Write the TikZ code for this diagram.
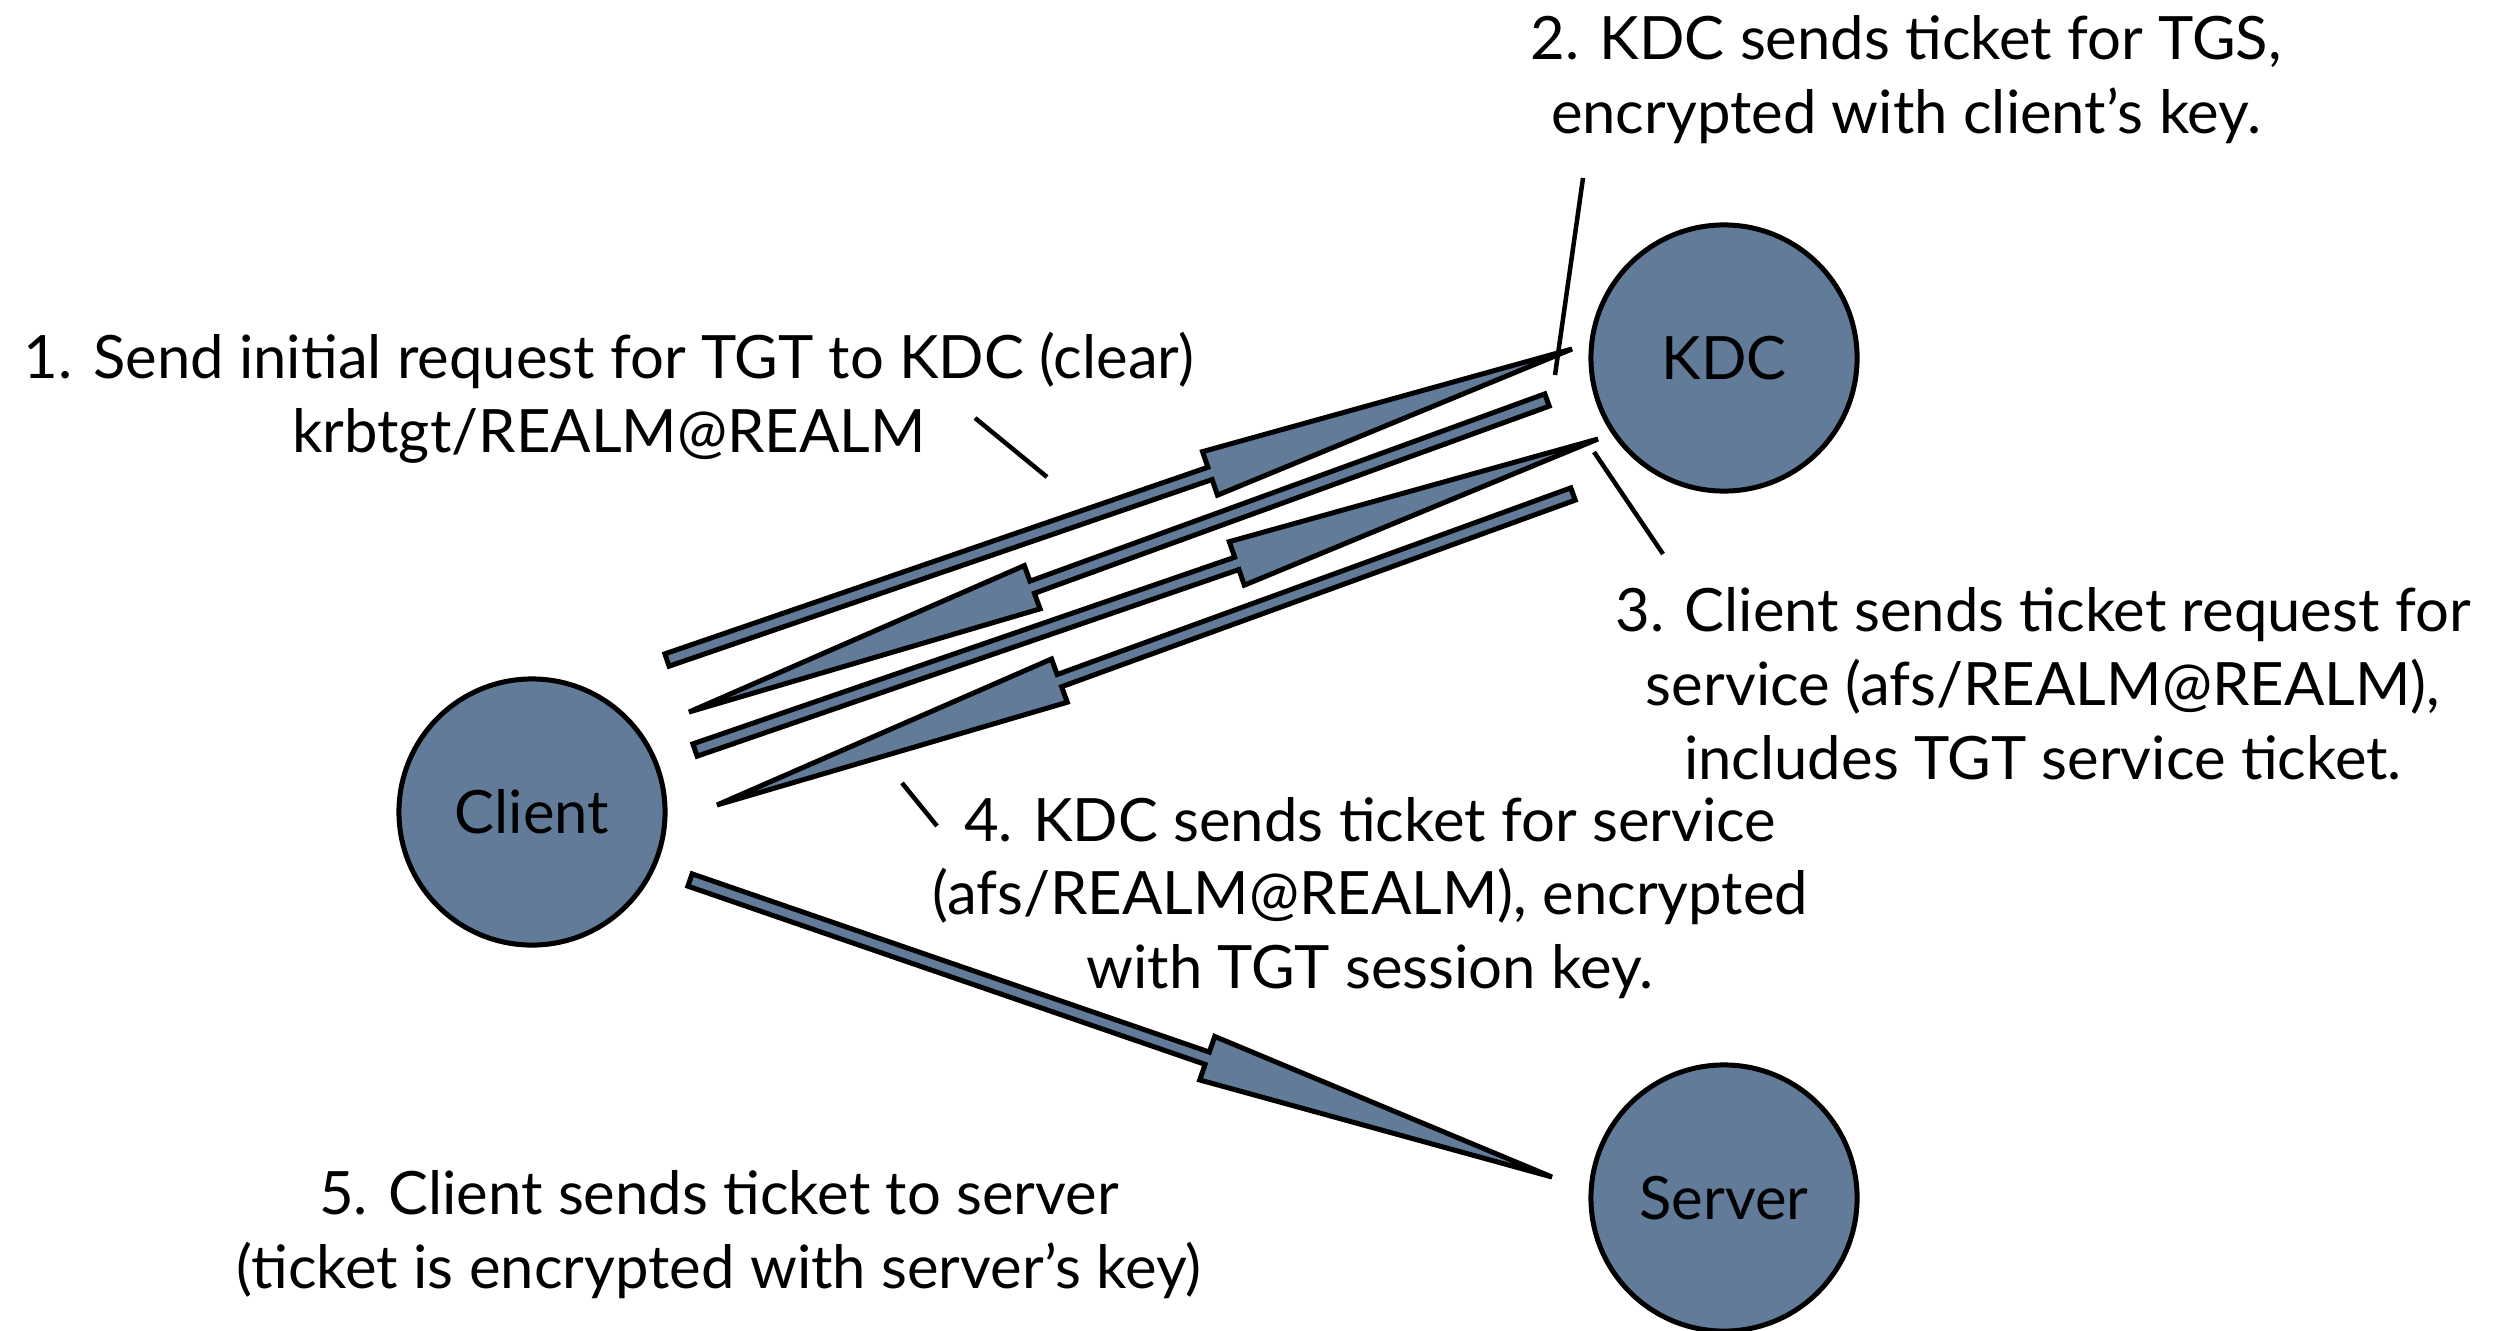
\documentclass[tikz,border=0pt]{standalone}
\usepackage{fontspec}
\setmainfont{Lato}
\usetikzlibrary{calc}
\definecolor{nodeblue}{RGB}{97,123,152}
\newcommand{\shaftw}{0.065cm}
\newcommand{\headw}{0.23cm}
\newcommand{\fatarrow}[2]{%
	\path (#1) -- coordinate[pos=0.6] (hb) (#2);
	\draw[fat] ($(#1)!\shaftw!90:(#2)$) -- ($(hb)!\shaftw!90:(#2)$) -- ($(hb)!\headw!90:(#2)$) -- (#2)
		-- ($(hb)!\headw!-90:(#2)$) -- ($(hb)!\shaftw!-90:(#2)$) -- ($(#1)!\shaftw!-90:(#2)$) -- cycle;
}
\tikzset{
	host/.style={circle, draw, fill=nodeblue, line width=0.05cm, minimum size=2.66cm, inner sep=0pt, font=\fontsize{17}{21}\selectfont},
	fat/.style={draw, fill=nodeblue, line width=0.05cm},
	lbl/.style={align=center, inner sep=0pt, font=\fontsize{17}{21}\selectfont},
	lead/.style={line width=0.045cm}
}
\begin{document}
\begin{tikzpicture}[x=0.01cm, y=-0.01cm]
		\fill[white] (0,0) rectangle (2495,1330);
		\useasboundingbox (0,0) rectangle (2495,1330);

		\node[host] (client) at (532,812) {Client};
		\node[host] (kdc) at (1724,358) {KDC};
		\node[host] (server) at (1724,1198) {Server};

		\coordinate (a1s) at ($(client)+(135,-152)$);
		\coordinate (a1e) at ($(kdc)+(-152,-9)$);
		\coordinate (a2s) at ($(kdc)+(-177,42)$);
		\coordinate (a2e) at ($(client)+(157,-100)$);
		\coordinate (a3s) at ($(client)+(163,-62)$);
		\coordinate (a3e) at ($(kdc)+(-126,81)$);
		\coordinate (a4s) at ($(kdc)+(-151,136)$);
		\coordinate (a4e) at ($(client)+(185,-7)$);
		\coordinate (a5s) at ($(client)+(158,68)$);
		\coordinate (a5e) at ($(server)+(-172,-21)$);

		\fatarrow{a1s}{a1e}
		\fatarrow{a2s}{a2e}
		\fatarrow{a3s}{a3e}
		\fatarrow{a4s}{a4e}
		\fatarrow{a5s}{a5e}

		\node[lbl] (t1) at (609,398) {1. Send initial request for TGT to KDC (clear)\\krbtgt/REALM@REALM};
		\node[lbl] (t2) at (1906,80) {2. KDC sends ticket for TGS,\\encrypted with client’s key.};
		\node[lbl] (t3) at (2043,684) {3. Client sends ticket request for\\service (afs/REALM@REALM),\\includes TGT service ticket.};
		\node[lbl] (t4) at (1370,898) {4. KDC sends ticket for service\\(afs/REALM@REALM), encrypted\\with TGT session key.};
		\node[lbl] (t5) at (719,1235) {5. Client sends ticket to server\\(ticket is encrypted with server’s key)};

		\coordinate (l1a) at (975,418);
		\coordinate (l1b) at (1047,477);
		\coordinate (l2a) at (1583,178);
		\coordinate (l2b) at (1555,375);
		\coordinate (l3a) at (1594,452);
		\coordinate (l3b) at (1663,554);
		\coordinate (l4a) at (902,783);
		\coordinate (l4b) at (937,826);
		\draw[lead] (l1a) -- (l1b);
		\draw[lead] (l2a) -- (l2b);
		\draw[lead] (l3a) -- (l3b);
		\draw[lead] (l4a) -- (l4b);
	\end{tikzpicture}
\end{document}
